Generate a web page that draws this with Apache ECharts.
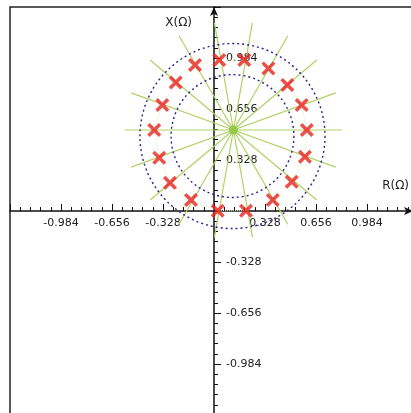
<!DOCTYPE html>
<html>
<head>
<meta charset="utf-8">
<script src="https://cdn.jsdelivr.net/npm/echarts@6/dist/echarts.min.js"></script>
<style>
html,body{margin:0;padding:0;background:#fff;}
#c{width:411px;height:413px;}
</style>
</head>
<body>
<div id="c"></div>
<script>
// Tick labels shown on both axes
const tickLabels = ['-0.984', '-0.656', '-0.328', '0.328', '0.656', '0.984'];

// Red X markers (R, X)
const markerR = [0.034, 0.195, 0.350, 0.472, 0.564, 0.597, 0.585, 0.500, 0.378, 0.206, 0.024, -0.148, -0.283, -0.352, -0.384, -0.332, -0.246, -0.122];
const markerX = [0.971, 0.971, 0.917, 0.810, 0.682, 0.521, 0.349, 0.188, 0.071, 0.002, 0.002, 0.071, 0.181, 0.342, 0.521, 0.682, 0.826, 0.939];

// Green rays: common centre and end points
const rayCenter = [0.125, 0.521];
const rayEndR = [0.825, 0.783, 0.661, 0.475, 0.247, 0.003, -0.225, -0.411, -0.533, -0.575, -0.533, -0.411, -0.225, 0.003, 0.247, 0.475, 0.661, 0.783];
const rayEndX = [0.521, 0.760, 0.971, 1.127, 1.210, 1.210, 1.127, 0.971, 0.760, 0.521, 0.282, 0.071, -0.085, -0.168, -0.168, -0.085, 0.071, 0.282];

// Blue dashed circles: centre and radii
const circleCenter = [0.119, 0.482];
const circleRadii = [0.395, 0.595];

const markers = markerR.map((r, i) => [r, markerX[i]]);
const rays = rayEndR.map((r, i) => [rayCenter[0], rayCenter[1], r, rayEndX[i]]);
const circles = circleRadii.map(r => [circleCenter[0], circleCenter[1], r]);

const fmt = v => {
  const s = v.toFixed(3);
  return tickLabels.indexOf(s) >= 0 ? s : '';
};

const axisCommon = {
  type: 'value',
  min: -1.312,
  interval: 0.328,
  splitLine: { show: false },
  axisLine: {
    onZero: false,
    symbol: ['none', 'arrow'],
    symbolSize: [6, 9],
    lineStyle: { color: '#111', width: 1.5 }
  },
  axisTick: { inside: true, length: 7, lineStyle: { color: '#111', width: 1 } },
  minorTick: { show: true, splitNumber: 5, length: 4, lineStyle: { color: '#111', width: 1 } },
  nameTextStyle: { fontFamily: 'DejaVu Sans', fontSize: 12, color: '#222' }
};

const chart = echarts.init(document.getElementById('c'), null, { renderer: 'canvas' });
chart.setOption({
  animation: false,
  backgroundColor: '#fff',
  grid: { left: 10, right: -2, top: 7, bottom: -2, containLabel: false, outerBoundsMode: 'none', show: true, borderColor: '#222', borderWidth: 1.5, backgroundColor: 'transparent' },
  xAxis: Object.assign({}, axisCommon, {
    max: 1.28,
    position: 'bottom',
    offset: -204,
    name: 'R(Ω)',
    nameLocation: 'end',
    nameGap: -4,
    nameTextStyle: Object.assign({}, axisCommon.nameTextStyle, { align: 'right', verticalAlign: 'bottom', padding: [0, 0, 19, 0] }),
    axisLabel: { formatter: fmt, margin: 7, fontFamily: 'DejaVu Sans', fontSize: 11, color: '#222' }
  }),
  yAxis: Object.assign({}, axisCommon, {
    max: 1.312,
    position: 'left',
    offset: -204,
    name: 'X(Ω)',
    nameLocation: 'end',
    nameGap: -16,
    nameTextStyle: Object.assign({}, axisCommon.nameTextStyle, { align: 'right', verticalAlign: 'middle', padding: [0, 22, 0, 0] }),
    axisLabel: { formatter: fmt, inside: true, margin: 12, fontFamily: 'DejaVu Sans', fontSize: 11, color: '#222' }
  }),
  series: [
    {
      type: 'custom',
      name: 'rays',
      data: rays,
      z: 2,
      renderItem: (params, api) => {
        const p1 = api.coord([api.value(0), api.value(1)]);
        const p2 = api.coord([api.value(2), api.value(3)]);
        return { type: 'line', shape: { x1: p1[0], y1: p1[1], x2: p2[0], y2: p2[1] }, style: { stroke: '#b0d163', lineWidth: 1.2 } };
      }
    },
    {
      type: 'custom',
      name: 'circles',
      data: circles,
      z: 3,
      renderItem: (params, api) => {
        const c = api.coord([api.value(0), api.value(1)]);
        const r = api.size([api.value(2), 0])[0];
        return { type: 'circle', shape: { cx: c[0], cy: c[1], r: r }, style: { fill: 'none', stroke: '#25258c', lineWidth: 1.4, lineDash: [2, 3] } };
      }
    },
    {
      type: 'line',
      name: 'outline',
      data: markers.concat([markers[0]]),
      symbol: 'none',
      z: 3,
      lineStyle: { color: '#e3ecc4', width: 1, type: 'dotted' }
    },
    {
      type: 'scatter',
      name: 'centre',
      data: [rayCenter],
      symbol: 'circle',
      symbolSize: 9,
      z: 4,
      itemStyle: { color: '#8cc63f' }
    },
    {
      type: 'scatter',
      name: 'markers',
      data: markers,
      symbol: 'path://M0,3.5 L3.5,0 L10,6.5 L16.5,0 L20,3.5 L13.5,10 L20,16.5 L16.5,20 L10,13.5 L3.5,20 L0,16.5 L6.5,10 Z',
      symbolSize: 14,
      z: 5,
      itemStyle: { color: '#e8231e' }
    }
  ]
});
</script>
</body>
</html>
